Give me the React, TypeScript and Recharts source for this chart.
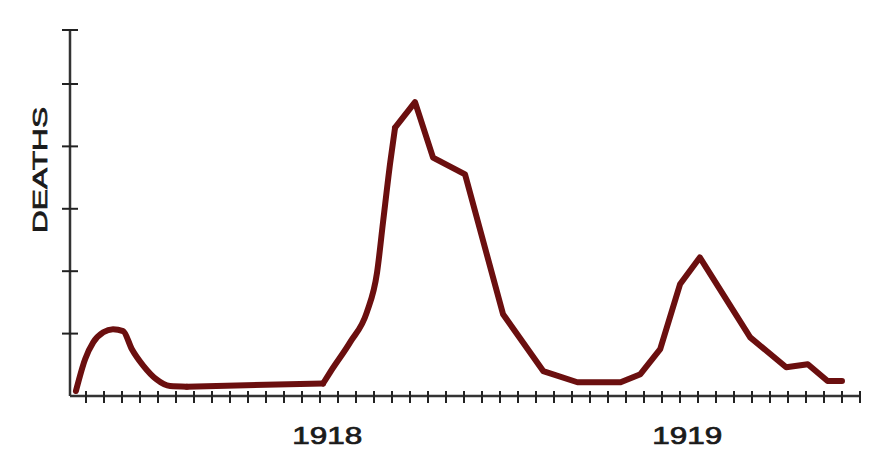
import React from "react";
import { LineChart, Line, XAxis, YAxis } from "recharts";

// x position in tick units (one tick per week), y in axis-tick units
const weeks: number[] = [
  -0.56, -0.05, 0.4, 0.96, 1.5, 2.06, 2.55, 3.2, 3.9, 4.67, 5.6, 13.17, 13.56, 14.67, 15.6, 16.17, 16.5,
  16.9, 17.17, 18.28, 19.28, 21.06, 23.17, 25.4, 27.3, 29.7, 30.8, 31.9, 33.0, 34.1, 36.9, 38.9, 40.1,
  41.2, 42.0,
];
const deaths: number[] = [
  0.08, 0.59, 0.86, 1.02, 1.07, 1.04, 0.75, 0.48, 0.27, 0.16, 0.15, 0.2, 0.38, 0.86, 1.34, 1.98, 2.78,
  3.74, 4.3, 4.71, 3.82, 3.55, 1.31, 0.4, 0.22, 0.22, 0.35, 0.75, 1.79, 2.22, 0.94, 0.46, 0.51, 0.24,
  0.24,
];
// index ranges drawn as smooth curves; everything else is straight segments
const curveRanges: [number, number][] = [
  [0, 10],
  [11, 18],
];
const xTicks: number[] = Array.from({ length: 44 }, (_, i) => i);
const yTicks: number[] = [0, 1, 2, 3, 4, 5, 5.865];
const yearTicks: number[] = [13.4, 33.4];
const yearLabels: string[] = ["1918", "1919"];

const inRange = (i: number, r: [number, number]) => i >= r[0] && i <= r[1];
const data = weeks.map((w, i) => ({
  week: w,
  curveA: inRange(i, curveRanges[0]) ? deaths[i] : null,
  curveB: inRange(i, curveRanges[1]) ? deaths[i] : null,
  straight:
    i === curveRanges[0][1] || i === curveRanges[1][0] || i >= curveRanges[1][1] ? deaths[i] : null,
}));

const FONT = "'Liberation Sans', Arial, Helvetica, sans-serif";
const LINE = "#6b0f0f";

const XTick = (props: any) => {
  const { x, y } = props;
  return <line x1={x} x2={x} y1={y - 5} y2={y + 7} stroke="#222" strokeWidth={2} />;
};

const YTick = (props: any) => {
  const { x, y, index } = props;
  if (index === 0) return <g />;
  return <line x1={x - 8} x2={x + 8} y1={y} y2={y} stroke="#222" strokeWidth={2} />;
};

const YearTick = (props: any) => {
  const { x, y, index } = props;
  return (
    <text
      x={x}
      y={y + 28}
      textAnchor="middle"
      fontFamily={FONT}
      fontSize={23}
      fill="#1a1a1a"
      stroke="#1a1a1a"
      strokeWidth={0.7}
      textLength={70}
      lengthAdjust="spacingAndGlyphs"
    >
      {yearLabels[index]}
    </text>
  );
};

const seriesProps = {
  xAxisId: "main",
  stroke: LINE,
  strokeWidth: 6,
  strokeLinejoin: "round" as const,
  strokeLinecap: "round" as const,
  dot: false,
  activeDot: false,
  connectNulls: false,
  isAnimationActive: false,
};

export default function App() {
  return (
    <div style={{ position: "absolute", left: 0, top: 0, width: 889, height: 468, background: "#fff" }}>
      <LineChart
        width={889}
        height={468}
        data={data}
        margin={{ top: 30, right: 29, bottom: 0, left: 0 }}
      >
        <XAxis
          xAxisId="main"
          type="number"
          dataKey="week"
          domain={[-0.889, 43]}
          ticks={xTicks}
          interval={0}
          allowDataOverflow
          tickLine={false}
          tickSize={0}
          tickMargin={0}
          tick={<XTick />}
          height={20}
          axisLine={{ stroke: "#333", strokeWidth: 2.5 }}
        />
        <XAxis
          xAxisId="years"
          type="number"
          dataKey="week"
          domain={[-0.889, 43]}
          ticks={yearTicks}
          interval={0}
          allowDataOverflow
          tickLine={false}
          tickSize={0}
          tickMargin={0}
          tick={<YearTick />}
          height={52}
          axisLine={false}
        />
        <YAxis
          type="number"
          domain={[0, 5.865]}
          ticks={yTicks}
          interval={0}
          allowDataOverflow
          width={70}
          tickLine={false}
          tickSize={0}
          tickMargin={0}
          tick={<YTick />}
          axisLine={{ stroke: "#333", strokeWidth: 2.5 }}
          label={{
            content: () => (
              <text
                x={46.5}
                y={170}
                transform="rotate(-90, 46.5, 170)"
                textAnchor="middle"
                fontFamily={FONT}
                fontSize={21}
                fill="#1a1a1a"
                stroke="#1a1a1a"
                strokeWidth={0.7}
                textLength={126}
                lengthAdjust="spacingAndGlyphs"
              >
                DEATHS
              </text>
            ),
          }}
        />
        <Line {...seriesProps} type="monotone" dataKey="curveA" />
        <Line {...seriesProps} type="monotone" dataKey="curveB" />
        <Line {...seriesProps} type="linear" dataKey="straight" />
      </LineChart>
    </div>
  );
}
